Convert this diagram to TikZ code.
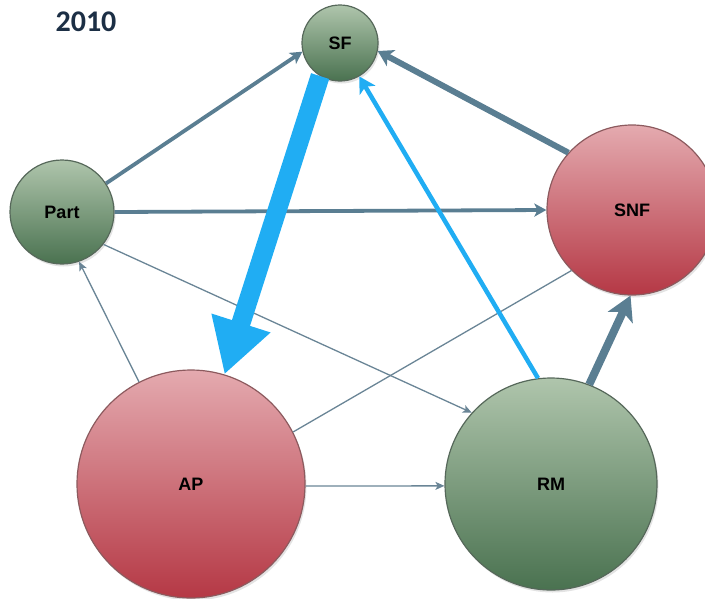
\documentclass[tikz,border=0pt]{standalone}
\usepackage{fontspec}
\setmainfont{Liberation Sans}
\newfontfamily\titlefont{Carlito}
\usetikzlibrary{arrows.meta,shadows}
\definecolor{edgegray}{HTML}{5A7E92}
\definecolor{thingray}{HTML}{6A8596}
\definecolor{edgeblue}{HTML}{20ADF3}
\definecolor{gtop}{HTML}{AFC5AC}
\definecolor{gbot}{HTML}{4A7250}
\definecolor{gline}{HTML}{56685A}
\definecolor{rtop}{HTML}{E4AAAF}
\definecolor{rbot}{HTML}{B53845}
\definecolor{rline}{HTML}{8C5A5E}
\definecolor{titleblue}{HTML}{1C2F45}
\begin{document}
\begin{tikzpicture}[x=1pt,y=-1pt,
  bubble/.style={circle, inner sep=0pt, font=\bfseries\fontsize{18}{20}\selectfont, text=black,
    line width=1.2pt, drop shadow={opacity=0.22, shadow xshift=1.5pt, shadow yshift=-2.5pt}},
  greenb/.style={bubble, draw=gline, top color=gtop, bottom color=gbot},
  redb/.style={bubble, draw=rline, top color=rtop, bottom color=rbot},
  thinlink/.style={draw=thingray, line width=1.3pt, -{Stealth[length=9pt,width=8pt,inset=2.2pt]}},
  thinline/.style={draw=thingray, line width=1.3pt},
  mediumlink/.style={draw=edgegray, line width=3.8pt, -{Stealth[length=12pt,width=13pt,inset=3pt]}},
  thicklink/.style={draw=edgegray, line width=6pt, -{Stealth[length=15pt,width=18pt,inset=4pt]}},
  heavylink/.style={draw=edgegray, line width=8pt, -{Stealth[length=24pt,width=27pt,inset=6pt]}},
  bluelink/.style={draw=edgeblue, line width=4.5pt, -{Stealth[length=16pt,width=18pt,inset=4pt]}},
  hugeblue/.style={draw=edgeblue, line width=19pt, -{Triangle[length=54pt,width=58pt]}}
]
\useasboundingbox (0,0) rectangle (705,598);

\node[font=\titlefont\bfseries\fontsize{30}{32}\selectfont, text=titleblue] (title) at (86,22) {2010};

\node[greenb, minimum size=76pt] (SF) at (340,43) {SF};
\node[greenb, minimum size=104pt] (Part) at (62,212) {Part};
\node[redb, minimum size=170pt] (SNF) at (632,210) {SNF};
\node[redb, minimum size=228pt] (AP) at (191,484) {AP};
\node[greenb, minimum size=212pt] (RM) at (551,484) {RM};

\draw[mediumlink] (Part.33) -- (SF.193);
\draw[mediumlink] (Part.0) -- (SNF.180);
\draw[thinlink] (Part.-38) -- (RM.138);
\draw[thinlink] (AP.117) -- (Part.-71);
\draw[thinline] (AP.27) -- (SNF.-135);
\draw[thinlink] (AP.-1) -- (RM.181.5);
\draw[thicklink] (SNF.138) -- (SF.-12);
\draw[heavylink] (RM.69) -- (SNF.-91);
\draw[bluelink] (RM.97) -- (SF.-60);
\draw[hugeblue] (SF.-121) -- (AP.73);
\end{tikzpicture}
\end{document}
